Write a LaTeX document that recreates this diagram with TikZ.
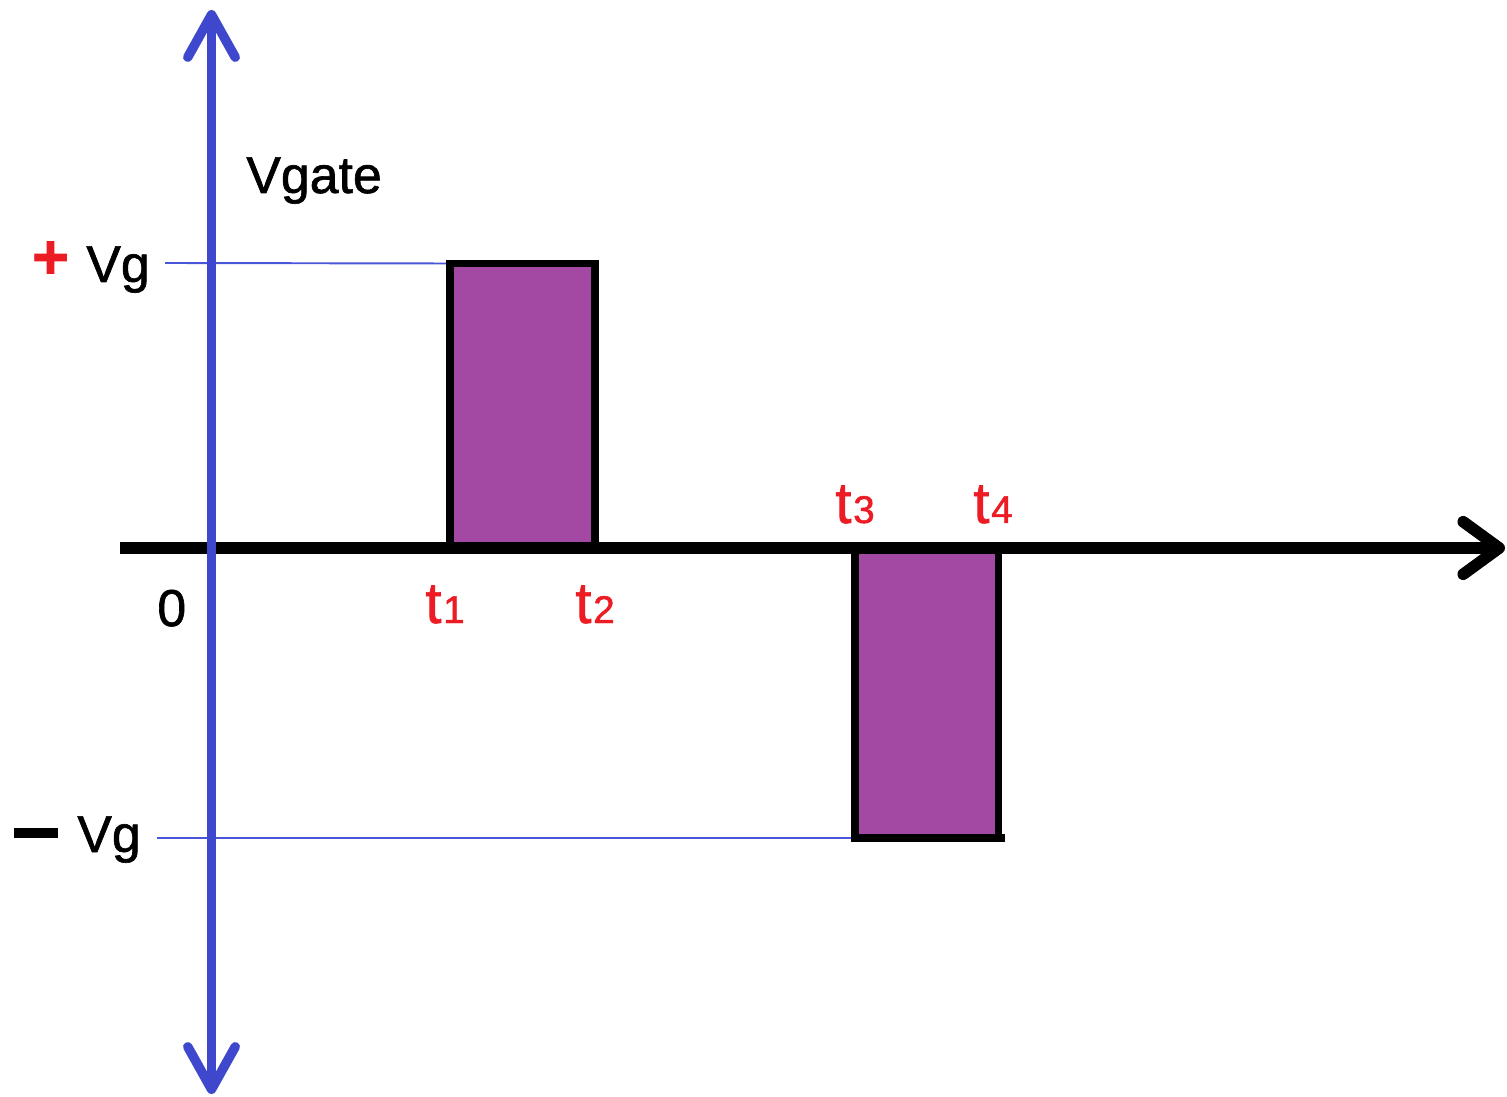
\documentclass[tikz,border=0pt]{standalone}
\usepackage{fontspec}
\setmainfont{Liberation Sans}[FakeBold=1.2]
\usetikzlibrary{arrows.meta}
\definecolor{axblue}{HTML}{3F48CC}
\definecolor{lvlblue}{HTML}{4A56DA}
\definecolor{pulsefill}{HTML}{A349A4}
\definecolor{lblred}{HTML}{ED1C24}
\begin{document}
\begin{tikzpicture}[x=0.02cm,y=-0.02cm,
  lbl/.style={inner sep=0pt,anchor=base west,font=\fontsize{29.5}{36}\selectfont},
  tlbl/.style={inner sep=0pt,anchor=base west,text=lblred,font=\fontsize{33}{40}\selectfont},
  level/.style={draw=lvlblue,line width=1.1pt},
  pulse/.style={draw=black,line width=4pt,line join=miter,line cap=rect},
  haxis/.style={draw=black,line width=6.6pt,-{Straight Barb[length=0.72cm,width=1.05cm,round]}},
  vaxis/.style={draw=axblue,line width=5.4pt,{Straight Barb[length=0.85cm,width=0.95cm,round]}-{Straight Barb[length=0.85cm,width=0.95cm,round]}}]
\useasboundingbox (0,0) rectangle (1507,1097);
% coordinates
\coordinate (hs) at (120,548);
\coordinate (he) at (1505,548);
\coordinate (vt) at (211.5,10);
\coordinate (vb) at (211.5,1094);
\coordinate (p1a) at (450,548);
\coordinate (p1b) at (450,263.5);
\coordinate (p1c) at (595,263.5);
\coordinate (p1d) at (595,548);
\coordinate (p2a) at (855,548);
\coordinate (p2b) at (855,838);
\coordinate (p2c) at (998,838);
\coordinate (p2d) at (998,548);
\coordinate (lv1) at (165,263);
\coordinate (lv2) at (157,838);
\coordinate (p2e) at (1001,838);
% level lines
\draw[level] (lv1) -- (p1b);
\draw[level] (lv2) -- (p2b);
% pulses
\fill[pulsefill] (p1a) rectangle (p1c);
\fill[pulsefill] (p2a) rectangle (p2c);
\draw[pulse] (p1a) -- (p1b) -- (p1c) -- (p1d);
\draw[pulse] (p2a) -- (p2b) -- (p2e);
\draw[pulse] (p2d) -- (p2c);
% axes
\draw[haxis] (hs) -- (he);
\draw[vaxis] (vb) -- (vt);
% labels
\node[lbl] (vgate) at (246,193) {Vgate};
\node[inner sep=0pt,text=lblred,font=\fontsize{36}{40}\selectfont\bfseries] (plus) at (50.5,260) {+};
\node[lbl] (vgp) at (86,282) {Vg};
\node[lbl] (minus) at (14,852) {\rule[0.27em]{0.84em}{0.19em}};
\node[lbl] (vgm) at (77,852) {Vg};
\node[lbl] (zero) at (157,626) {0};
\node[tlbl] (t1) at (425,623) {t\kern1pt{\fontsize{22}{24}\selectfont 1}};
\node[tlbl] (t2) at (575,623) {t\kern1pt{\fontsize{22}{24}\selectfont 2}};
\node[tlbl] (t3) at (835,523) {t\kern1pt{\fontsize{22}{24}\selectfont 3}};
\node[tlbl] (t4) at (973,523) {t\kern1pt{\fontsize{22}{24}\selectfont 4}};
\end{tikzpicture}
\end{document}
